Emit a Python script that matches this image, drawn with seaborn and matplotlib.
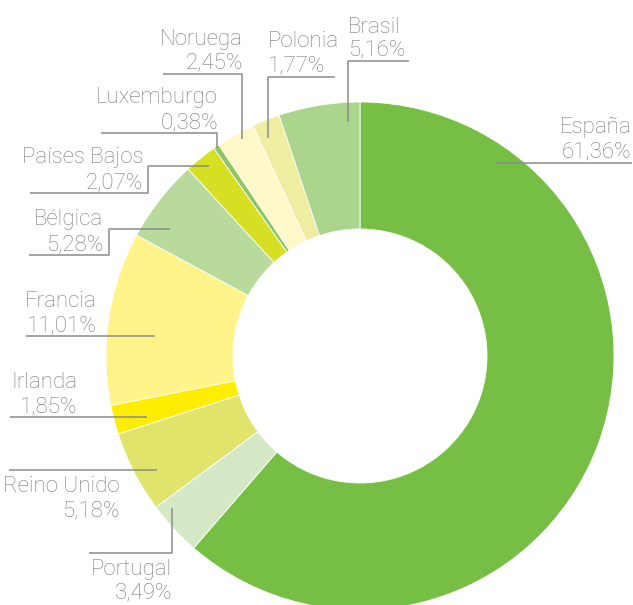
import matplotlib
matplotlib.use("Agg")
import matplotlib.pyplot as plt
import seaborn as sns

countries = ["España", "Portugal", "Reino Unido", "Irlanda", "Francia", "Bélgica",
             "Países Bajos", "Luxemburgo", "Noruega", "Polonia", "Brasil"]
shares = [61.36, 3.49, 5.18, 1.85, 11.01, 5.28, 2.07, 0.38, 2.45, 1.77, 5.16]
colors = ["#76BF44", "#D5E8C5", "#E0E46A", "#FFED00", "#FFF48A", "#B8DB9D",
          "#D6DF22", "#8DC763", "#FFF9C9", "#EEEDA0", "#ABD48C"]
share_labels = [f"{v:.2f}".replace(".", ",") + "%" for v in shares]

sns.set_theme(style="white")
plt.rcParams['font.family'] = ['Roboto', 'DejaVu Sans']

W, H = 633, 605
fig = plt.figure(figsize=(W / 100, H / 100), dpi=100)
ax = fig.add_axes([0, 0, 1, 1])
ax.set_xlim(0, W)
ax.set_ylim(0, H)
ax.set_aspect("equal")
ax.axis("off")

def Y(y):
    return H - y

cx, cy, R = 360, 356, 254
ax.pie(shares, colors=colors, startangle=90, counterclock=False,
       center=(cx, Y(cy)), radius=R, frame=True,
       wedgeprops=dict(width=R / 2, edgecolor="white", linewidth=0.6))
ax.set_xlim(0, W)
ax.set_ylim(0, H)
ax.axis("off")

TXT = "#7b7b7b"
LINE = "#8c8c8c"
FS = 16

# label layout: (x anchor, baseline y name, baseline y value, ha, leader polyline)
layout = {
    "España": (631, 133, 157, "right", [(495, 163), (632, 163)]),
    "Portugal": (172, 575, 598, "right", [(172, 508), (172, 553), (89, 553)]),
    "Reino Unido": (120, 492, 516, "right", [(9, 470), (157, 470)]),
    "Irlanda": (77, 388, 412, "right", [(10, 417), (147, 417)]),
    "Francia": (97, 307, 331, "right", [(26, 336), (155, 336)]),
    "Bélgica": (103, 225, 250, "right", [(29, 255), (109, 255), (109, 229), (170, 229)]),
    "Países Bajos": (143, 163, 188, "right", [(30, 193), (148, 193), (148, 166), (209, 166)]),
    "Luxemburgo": (218, 103, 128, "right", [(101, 133), (217, 133), (217, 148)]),
    "Noruega": (243, 45, 68, "right", [(163, 74), (242, 74), (242, 139)]),
    "Polonia": (268, 47, 71, "left", [(335, 77), (268, 77), (268, 138)]),
    "Brasil": (348, 33, 55, "left", [(409, 61), (348, 61), (348, 122)]),
}

for name, lab in zip(countries, share_labels):
    x, y1, y2, ha, pts = layout[name]
    ax.text(x, Y(y1), name, ha=ha, va="baseline", fontsize=FS, color=TXT, fontweight="light")
    ax.text(x, Y(y2), lab, ha=ha, va="baseline", fontsize=FS, color=TXT, fontweight="light")
    xs = [p[0] for p in pts]
    ys = [Y(p[1]) for p in pts]
    ax.plot(xs, ys, color=LINE, lw=1.1, solid_capstyle="butt")

fig.savefig("out.png", dpi=100)
